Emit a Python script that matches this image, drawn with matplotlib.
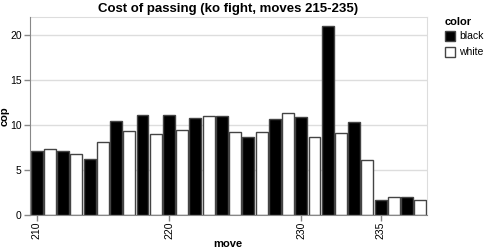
import numpy as np
import matplotlib
matplotlib.use("Agg")
from matplotlib import pyplot as plt
from matplotlib.patches import Rectangle

plt.rcParams['font.family'] = ['Liberation Sans', 'DejaVu Sans']

# one bar per move, alternating player colour
colors = ['black', 'white'] * 15
cop = [7.1, 7.35, 7.1, 6.75, 6.2, 8.1, 10.45, 9.3, 11.1, 8.95,
       11.05, 9.4, 10.8, 11.0, 10.95, 9.2, 8.65, 9.2, 10.6, 11.35,
       10.85, 8.65, 21.0, 9.05, 10.3, 6.1, 1.7, 1.95, 1.95, 1.7]
tick_bars = [0, 10, 20, 26]
tick_labels = ['210', '220', '230', '235']

W, H = 484, 252
fig = plt.figure(figsize=(W / 100, H / 100), dpi=100)
ax = fig.add_axes([30 / W, (H - 215) / H, 397 / W, 198.5 / H])

x = np.arange(len(cop))
for xi, v, c in zip(x, cop, colors):
    ax.bar(xi, v, width=0.9, color=c, edgecolor='#444444', linewidth=1.0, zorder=3)

ax.set_xlim(-0.5, len(cop) - 0.5)
ax.set_ylim(0, 22)
ax.set_yticks([0, 5, 10, 15, 20])
ax.set_xticks(tick_bars)
ax.set_xticklabels(tick_labels, rotation=90)
ax.tick_params(axis='both', labelsize=7.5, color='#888888', length=4, width=1, pad=2)
ax.tick_params(axis='x', pad=1)
ax.yaxis.grid(True, color='#dddddd', linewidth=1, zorder=0)

for side in ['top', 'right']:
    ax.spines[side].set_color('#dddddd')
for side in ['left', 'bottom']:
    ax.spines[side].set_color('#888888')
    ax.spines[side].set_zorder(4)

fig.text(228 / W, 1 - 244 / H, 'move', fontsize=8, fontweight='bold',
         ha='center', va='center')
fig.text(4.5 / W, 1 - 116 / H, 'cop', fontsize=8, fontweight='bold',
         ha='center', va='center', rotation=90)
fig.text(228 / W, 1 - 9 / H, 'Cost of passing (ko fight, moves 215-235)',
         fontsize=9.5, fontweight='bold', ha='center', va='center')

# legend
fig.text(445 / W, 1 - 22 / H, 'color', fontsize=8, fontweight='bold', va='center')
for i, c in enumerate(['black', 'white']):
    yc = 36 + i * 16
    fig.patches.append(Rectangle((445 / W, 1 - (yc + 5) / H), 10 / W, 10 / H,
                                 facecolor=c, edgecolor='#444444', linewidth=1,
                                 transform=fig.transFigure))
    fig.text(459 / W, 1 - yc / H, c, fontsize=7.5, va='center')

fig.savefig('out.png', dpi=100)
